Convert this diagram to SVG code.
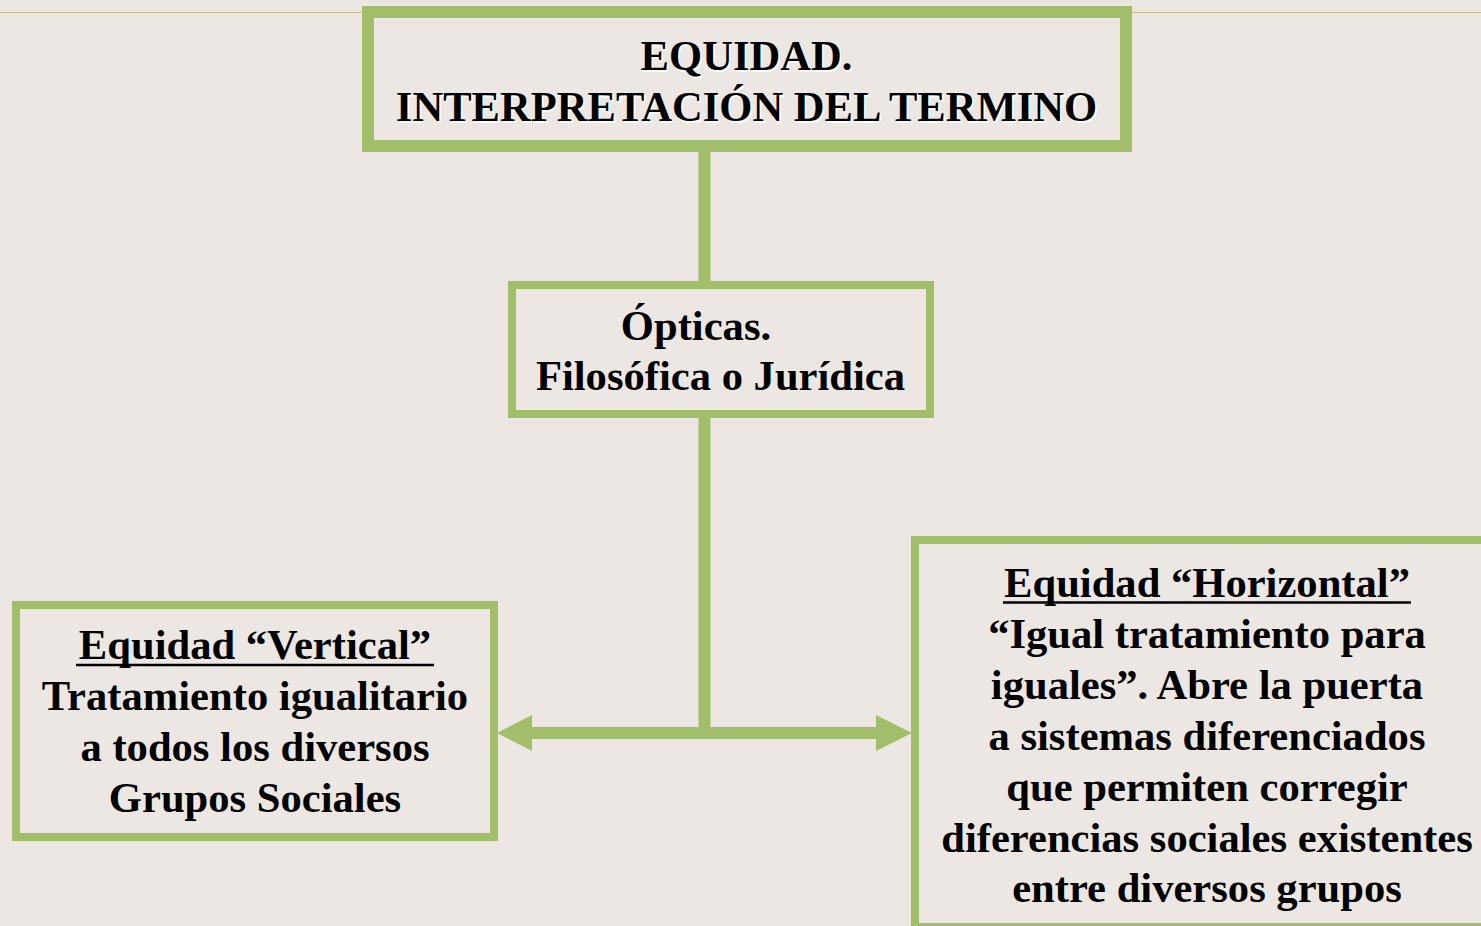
<svg xmlns="http://www.w3.org/2000/svg" width="1481" height="926" viewBox="0 0 1481 926">
<style>
.box{fill:#ece7e2;stroke:#a3be6b}
.t{font-family:"Liberation Serif","Times New Roman",serif;font-weight:bold;font-size:42.6px;fill:#000;text-anchor:middle}
.sh{fill:#ffffff}
.ul{stroke:#000;stroke-width:2.5}
.conn{stroke:#a3be6b;stroke-width:12;fill:none}
.head{fill:#a3be6b}
</style>
<rect x="0" y="0" width="1481" height="926" fill="#ece7e2"/>
<line x1="0" y1="12.5" x2="1481" y2="12.5" stroke="#cbbb7d" stroke-width="1.2"/>
<g id="connectors">
<line class="conn" x1="704.5" y1="150" x2="704.5" y2="283"/>
<line class="conn" x1="704.5" y1="416" x2="704.5" y2="733"/>
<line class="conn" x1="530" y1="733" x2="878" y2="733"/>
<polygon class="head" points="497,733 532,715 532,751"/>
<polygon class="head" points="912,733 876,715 876,751"/>
</g>
<g id="node-title">
<rect class="box" x="368" y="12" width="758" height="134" stroke-width="12"/>
<text class="t sh" x="748" y="71.5">EQUIDAD.</text>
<text class="t sh" x="748" y="122.5">INTERPRETACIÓN DEL TERMINO</text>
<text class="t" x="746.5" y="70">EQUIDAD.</text>
<text class="t" x="746.5" y="121">INTERPRETACIÓN DEL TERMINO</text>
</g>
<g id="node-opticas">
<rect class="box" x="512" y="285" width="418" height="129" stroke-width="8"/>
<text class="t" x="696" y="340">Ópticas.</text>
<text class="t" x="720.5" y="390">Filosófica o Jurídica</text>
</g>
<g id="node-vertical">
<rect class="box" x="16" y="605" width="478" height="232" stroke-width="8"/>
<text class="t" x="255" y="659">Equidad “Vertical”</text>
<line class="ul" x1="76" y1="665" x2="434" y2="665"/>
<text class="t" x="255" y="710">Tratamiento igualitario</text>
<text class="t" x="255" y="761">a todos los diversos</text>
<text class="t" x="255" y="812">Grupos Sociales</text>
</g>
<g id="node-horizontal">
<rect class="box" x="915" y="540" width="580" height="387" stroke-width="8"/>
<text class="t" x="1207" y="597">Equidad “Horizontal”</text>
<line class="ul" x1="1003" y1="602.5" x2="1411" y2="602.5"/>
<text class="t" x="1207" y="648">“Igual tratamiento para</text>
<text class="t" x="1207" y="699">iguales”. Abre la puerta</text>
<text class="t" x="1207" y="750">a sistemas diferenciados</text>
<text class="t" x="1207" y="801">que permiten corregir</text>
<text class="t" x="1207" y="852">diferencias sociales existentes</text>
<text class="t" x="1207" y="902">entre diversos grupos</text>
</g>
</svg>
